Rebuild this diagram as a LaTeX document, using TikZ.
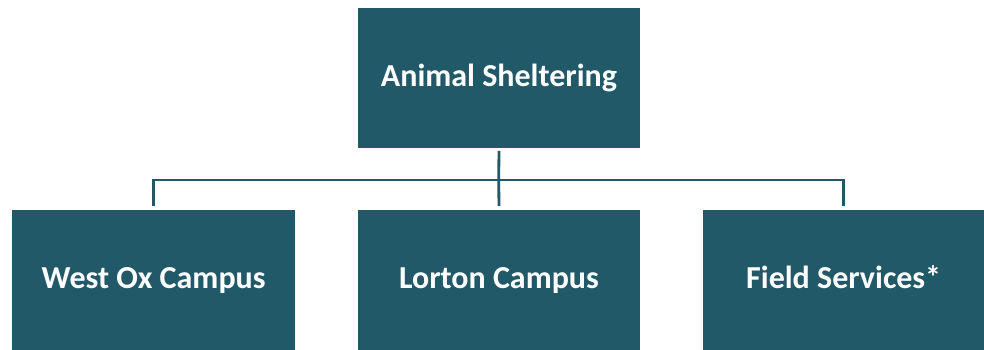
\documentclass[tikz,border=0pt]{standalone}
\usepackage{fontspec}
\setmainfont{Carlito}
\definecolor{teal}{HTML}{215968}
\tikzset{
  orgbox/.style={fill=teal, draw=none, text=white, font=\bfseries\fontsize{32}{38}\selectfont, inner sep=0pt, anchor=south west, text height=78pt, text depth=61.5pt},
  conn/.style={draw=teal, line width=2.8pt}
}
\begin{document}
\begin{tikzpicture}[x=1pt,y=1pt]
\useasboundingbox (0,0) rectangle (984,350);
\node[orgbox, minimum width=282.5pt] (top) at (357.5,202) {Animal Sheltering};
\node[orgbox, minimum width=283pt] (west) at (12,0) {West Ox Campus};
\node[orgbox, minimum width=282.5pt] (lorton) at (357.5,0) {Lorton Campus};
\node[orgbox, minimum width=281pt] (field) at (703,0) {Field Services*};
\coordinate (mid) at (498.75,170);
\draw[conn] ([yshift=-3pt]top.south) -- (mid);
\draw[conn] ([yshift=4pt]west.north) |- (mid) -| ([yshift=4pt]field.north);
\draw[conn] (mid) -- ([yshift=4pt]lorton.north);
\end{tikzpicture}
\end{document}
